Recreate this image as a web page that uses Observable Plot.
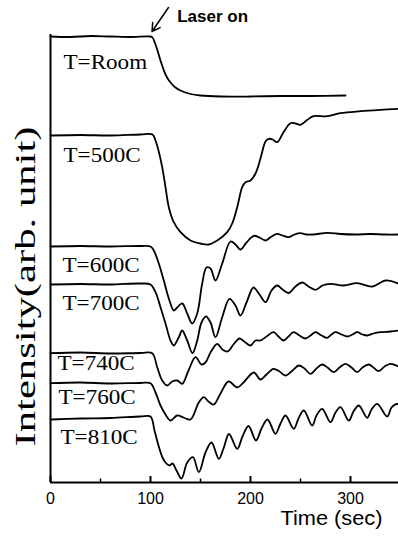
<!DOCTYPE html>
<html><head><meta charset="utf-8">
<script src="https://cdn.jsdelivr.net/npm/d3@7"></script>
<script src="https://cdn.jsdelivr.net/npm/@observablehq/plot@0.6"></script>
<style>body{margin:0;background:#fff}</style>
</head><body><div id="chart"></div>
<script>
// time (sec), intensity (arb. unit)
const roomCurve = [[0,446],[20,445.5],[40,446.5],[60,446],[80,445.5],[100,446],[102,445],[105,438],[107,432],[110,422],[113,413],[116,406],[120,400],[125,395],[130,392],[140,388.5],[150,387],[170,386],[200,386],[230,386.5],[260,386.5],[295,387]];
const curve500 = [[0,347],[30,347.5],[60,347],[90,348],[102,348],[105,342],[108,332],[111.7,315.3],[115,295.3],[118.3,275.3],[123.3,260.3],[130,250.3],[140,242],[150,239],[158,238],[166.7,242],[176.7,250.3],[181.7,259],[186.7,275.3],[191.7,295.3],[195,300.3],[200,302],[205,309],[210,324],[215,341],[218.3,343.7],[222,343],[226.7,340.3],[233,350.3],[240,359.3],[245,359],[250,357.7],[256,362],[263,366.3],[277,366.3],[290,369.3],[310,371.3],[330,372.7],[348,373.7]];
const curve600 = [[0,236],[30,236.5],[60,236],[90,236.5],[100,236],[103.3,232],[108.3,219],[113.3,202],[118.3,184],[123.3,172],[126.7,175],[131.7,179],[136.7,169],[141.7,159],[146.7,169],[151.7,199],[156,215],[160,214],[165,202],[171.7,219],[180,241],[185,238],[190,233],[196,240],[203.3,246.7],[209,245],[215,242],[221,246],[226.7,248.7],[232,247],[238,245.3],[244,248],[250,249.3],[256,248],[263,248],[277,249.7],[290,248.5],[305,248],[320,248.5],[335,248],[348,248]];
const curve700 = [[0,198],[30,198.5],[60,198],[90,199],[100,198],[105,190.3],[110,175.3],[115,159],[120,142],[123.3,137],[128.3,145.3],[131.7,152],[136.7,142],[142,129.5],[146.7,142],[151,160],[155.5,166],[160,160],[165,145.3],[171.7,165.3],[179,183.7],[185,177],[190,167],[196,180],[203,195],[209,188],[215,180.3],[221,192],[226.7,197],[232,193],[238.3,189.5],[245,196],[252,200],[258,196],[265,192.7],[272,197],[280,198.7],[293,197],[306.7,199.3],[321.7,196],[335,202],[348,198.7]];
const curve740 = [[0,129.3],[30,130],[60,129],[90,129.5],[101.7,129.3],[106.7,115.3],[111.7,102],[116.7,97],[121.7,101],[126.7,102],[131.7,98.7],[138,112],[145,125.3],[151,118],[155,120],[160,130],[166.7,138.7],[172,133],[177,131],[183,138],[189,144],[195,140],[200,137],[205,142],[210,142],[216,146],[223,150.3],[228,146],[233,142],[238,146],[243,150.3],[249,147],[255,144],[260,147],[265,150.3],[271,147],[276.7,144.7],[281,148],[285,150.3],[291,148],[296.7,146],[302,148],[306.7,150.3],[312,148],[316.7,147],[323,149],[330,150.3],[340,151],[348,152]];
const curve760 = [[0,99.3],[30,100],[60,99],[90,99.5],[100,99.3],[105,90],[110,77],[115,68],[120,62],[126.7,67],[133,65],[140,63],[148.3,80],[153.3,85.3],[158,81],[163.3,78],[170,89],[178,101],[186.7,95],[193,100],[203.3,110],[210,103],[216,108],[223,113.7],[229,111],[235,107],[242,112],[248.3,117],[254,114],[260,108.7],[266,114],[271.7,118],[277,115],[283.3,110.3],[289,115],[295,118.7],[301,115],[306.7,110.3],[312,115],[318.3,118],[323,115],[328.3,111.3],[334,116],[340,118.7],[348,116]];
const curve810 = [[0,63],[30,64],[60,64.5],[90,66],[100,66],[104,52],[108,37],[112,25],[115,20],[119,17],[122,19],[126,12],[131,4],[136.7,20],[142.5,25.3],[148.3,10.3],[155,30],[161,40],[168.3,23.7],[173,34],[178.5,48.5],[186.7,33.7],[192,46],[198,56.5],[205.5,42],[211,54],[217,63],[225,48.7],[230,59],[235,67],[243.3,53.7],[248,64],[253.3,72],[261.7,57],[266,67],[271.7,73.7],[280,60.3],[285,70],[290,75.3],[298.3,62],[303,71],[308.3,77],[316.7,64.7],[321,73],[326.7,78.7],[336.7,66],[341,75],[346.7,78.7],[348,78]];

const seriesNames = ["T=Room","T=500C","T=600C","T=700C","T=740C","T=760C","T=810C"];
const seriesCurves = [roomCurve, curve500, curve600, curve700, curve740, curve760, curve810];
const labelTime = [13,13,12,12,7,8,10];
const labelLevel = [420,327,217,179,119,85,45];

const xTicks = [0,100,200,300];
const xMinorTicks = [50,150,250];
const xLabel = "Time (sec)";
const yLabel = "Intensity(arb. unit)";
const laserText = "Laser on";
const laserArrow = [{x1:118, y1:475, x2:101.5, y2:451}];
const laserTextPos = [{t:126.7, v:466, s:laserText}];

const rows = seriesCurves.flatMap((pts,i)=>pts.map(([t,v])=>({series:seriesNames[i], t, v})));
const labelRows = seriesNames.map((s,i)=>({s, t:labelTime[i], v:labelLevel[i]}));

const serif = "'Liberation Serif','Times New Roman',serif";
const sans = "'Liberation Sans',Arial,sans-serif";

const chart = Plot.plot({
  width:398, height:536, marginLeft:50, marginRight:0, marginTop:34, marginBottom:54,
  style:{fontFamily:sans, fontSize:"16px", background:"white", color:"black"},
  x:{domain:[0,348], ticks:xTicks, tickSize:0, tickPadding:10, label:null, tickFormat:d=>String(d)},
  y:{domain:[0,448], axis:null},
  marks:[
    Plot.ruleY([0],{stroke:"black", strokeWidth:2}),
    Plot.ruleX([0],{stroke:"black", strokeWidth:2}),
    Plot.ruleX(xTicks,{y1:0, y2:6, stroke:"black", strokeWidth:2}),
    Plot.ruleX(xMinorTicks,{y1:0, y2:3.5, stroke:"black", strokeWidth:1.5}),
    Plot.line(rows,{x:"t", y:"v", z:"series", curve:"catmull-rom", stroke:"black", strokeWidth:1.8}),
    Plot.text(labelRows,{x:"t", y:"v", text:"s", textAnchor:"start", fontFamily:serif, fontSize:21, fill:"black"}),
    Plot.text([yLabel],{frameAnchor:"left", rotate:-90, textAnchor:"start", dx:-25, dy:188, fontFamily:serif, fontSize:30, fill:"black"}),
    Plot.text([xLabel],{frameAnchor:"bottom-right", dx:-16, dy:42, textAnchor:"end", fontFamily:sans, fontSize:20, fill:"black"}),
    Plot.text(laserTextPos,{x:"t", y:"v", text:"s", textAnchor:"start", fontFamily:sans, fontWeight:"bold", fontSize:17, fill:"black"}),
    Plot.arrow(laserArrow,{x1:"x1", y1:"y1", x2:"x2", y2:"y2", stroke:"black", strokeWidth:1.5, headLength:9})
  ]
});
document.getElementById("chart").append(chart);
// horizontally stretched lettering, as in the scanned figure
const groups = d3.select(chart).selectAll('g[aria-label="text"]').nodes();
d3.select(groups[0]).selectAll("text").each(function(){
  const n = this.getComputedTextLength();
  d3.select(this).attr("textLength", n*1.1).attr("lengthAdjust","spacingAndGlyphs");
});
d3.select(groups[1]).selectAll("text").each(function(){
  d3.select(this).attr("textLength", 320).attr("lengthAdjust","spacingAndGlyphs");
});
d3.select(groups[2]).selectAll("text").each(function(){
  d3.select(this).attr("textLength", 102).attr("lengthAdjust","spacingAndGlyphs");
});
</script>
</body></html>
